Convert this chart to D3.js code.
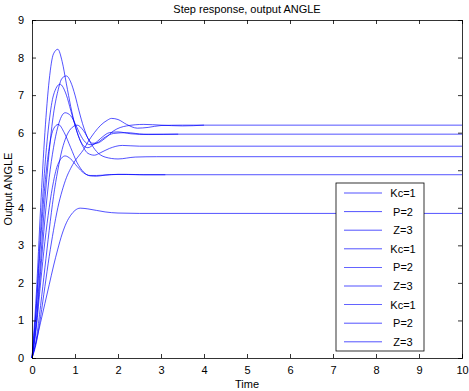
<!DOCTYPE html>
<html><head><meta charset="utf-8">
<script src="https://cdnjs.cloudflare.com/ajax/libs/d3/7.8.5/d3.min.js"></script>
<style>body{margin:0;background:#fff}svg{display:block}text{font-family:"Liberation Sans",Arial,sans-serif}</style>
</head><body><svg id="c" width="469" height="391"></svg>
<script>
const xTicks = [0,1,2,3,4,5,6,7,8,9,10];
const yTicks = [0,1,2,3,4,5,6,7,8,9];
const legendLabels = ["Kc=1","P=2","Z=3","Kc=1","P=2","Z=3","Kc=1","P=2","Z=3"];

const t1 = [0,0.1,0.2,0.3,0.4,0.5,0.6,0.7,0.8,0.9,1.0,1.1,1.2,1.3,1.45,1.6,1.8,2.0,2.3,2.7,3.4];
const y1 = [0,1.7,4.0,6.0,7.4,8.1,8.22,7.9,7.3,6.7,6.2,5.85,5.65,5.6,5.7,5.85,6.0,6.02,5.97,5.95,5.96];
const t2 = [0,0.1,0.2,0.3,0.4,0.5,0.6,0.7,0.8,0.9,1.0,1.1,1.2,1.3,1.4,1.5,1.7,1.9,2.2,2.6,3.0,3.5,4.0];
const y2 = [0,1.0,2.6,4.2,5.5,6.5,7.1,7.45,7.51,7.35,7.0,6.55,6.15,5.85,5.72,5.72,5.85,6.05,6.18,6.22,6.2,6.18,6.2];
const t3 = [0,0.1,0.2,0.3,0.4,0.5,0.65,0.8,0.9,1.0,1.1,1.2,1.3,1.45,1.6,1.8,2.1,2.5,3,10];
const y3 = [0,1.4,3.4,5.1,6.3,7.0,7.29,7.0,6.6,6.2,5.85,5.6,5.45,5.4,5.47,5.58,5.66,5.64,5.64,5.64];
const t4 = [0,0.1,0.2,0.3,0.4,0.5,0.6,0.77,0.9,1.0,1.1,1.2,1.35,1.5,1.7,1.9,2.2,2.6,10];
const y4 = [0,0.9,2.3,3.7,4.8,5.6,6.15,6.53,6.45,6.25,6.0,5.8,5.68,5.72,5.88,5.98,6.0,5.96,5.96];
const t5 = [0,0.1,0.2,0.3,0.4,0.5,0.61,0.75,0.9,1.05,1.2,1.35,1.5,1.7,2.0,2.5,10];
const y5 = [0,1.3,3.1,4.6,5.6,6.1,6.22,6.0,5.6,5.2,4.95,4.85,4.84,4.87,4.89,4.88,4.88];
const t6 = [0,0.1,0.2,0.3,0.4,0.5,0.6,0.7,0.8,0.9,1.05,1.2,1.35,1.5,1.7,2.0,2.4,2.9,10];
const y6 = [0,0.5,1.4,2.4,3.4,4.3,5.0,5.55,5.9,6.1,6.2,6.05,5.75,5.5,5.35,5.3,5.35,5.36,5.36];
const t7 = [0,0.1,0.2,0.3,0.4,0.5,0.6,0.77,0.9,1.05,1.2,1.35,1.5,1.8,2.2,2.6,3.1];
const y7 = [0,0.8,2.0,3.1,4.0,4.7,5.15,5.38,5.3,5.1,4.93,4.86,4.86,4.88,4.89,4.88,4.88];
const t8 = [0,0.1,0.2,0.3,0.4,0.5,0.6,0.7,0.8,0.9,1.0,1.1,1.2,1.3,1.45,1.6,1.75,1.85,2.0,2.2,2.45,2.7,3.0,3.5,4,10];
const y8 = [0,0.4,1.1,1.9,2.7,3.4,4.0,4.45,4.8,5.05,5.25,5.4,5.55,5.75,6.0,6.2,6.33,6.38,6.35,6.22,6.12,6.14,6.19,6.2,6.2,6.2];
const t9 = [0,0.1,0.2,0.3,0.4,0.5,0.6,0.7,0.8,0.9,1.0,1.12,1.3,1.5,1.7,2.0,2.5,10];
const y9 = [0,0.45,0.95,1.45,1.95,2.45,2.9,3.3,3.6,3.8,3.93,3.99,3.97,3.93,3.89,3.86,3.85,3.85];

const seriesT = [t1,t2,t3,t4,t5,t6,t7,t8,t9];
const seriesY = [y1,y2,y3,y4,y5,y6,y7,y8,y9];

const L = 32, R = 462, T = 20, B = 358;
const svg = d3.select("#c");
const x = d3.scaleLinear().domain([0,10]).range([L,R]);
const y = d3.scaleLinear().domain([0,9]).range([B,T]);

svg.append("rect").attr("x",L).attr("y",T).attr("width",R-L).attr("height",B-T).attr("fill","#fff");

const line = d3.line().x(d=>x(d[0])).y(d=>y(d[1])).curve(d3.curveMonotoneX);
const g = svg.append("g");
seriesT.forEach((ts,i)=>{
  const pts = ts.map((t,j)=>[t, seriesY[i][j]]);
  g.append("path").attr("d",line(pts)).attr("fill","none").attr("stroke","#0000ff").attr("stroke-width",0.8).attr("opacity",0.85);
});

// axes (MATLAB style, inward ticks on all sides)
const fs = 11;
const axB = svg.append("g").attr("transform",`translate(0,${B})`).call(d3.axisBottom(x).tickValues(xTicks).tickSize(-4).tickPadding(8).tickFormat(d3.format("d")));
const axT = svg.append("g").attr("transform",`translate(0,${T})`).call(d3.axisTop(x).tickValues(xTicks).tickSize(-4).tickFormat(""));
const axL = svg.append("g").attr("transform",`translate(${L},0)`).call(d3.axisLeft(y).tickValues(yTicks).tickSize(-4).tickPadding(8).tickFormat(d3.format("d")));
const axR = svg.append("g").attr("transform",`translate(${R},0)`).call(d3.axisRight(y).tickValues(yTicks).tickSize(-4).tickFormat(""));
[axB,axT,axL,axR].forEach(a=>{
  a.select(".domain").attr("stroke","#000").attr("stroke-width",0.8);
  a.selectAll(".tick line").attr("stroke","#000").attr("stroke-width",0.8);
  a.selectAll("text").attr("font-size",fs).attr("fill","#000").style("font-family","Liberation Sans, Arial, sans-serif");
});

svg.append("text").attr("x",247).attr("y",13).attr("text-anchor","middle").attr("font-size",11).text("Step response, output ANGLE");
svg.append("text").attr("x",247).attr("y",388).attr("text-anchor","middle").attr("font-size",11).text("Time");
svg.append("text").attr("transform",`translate(12,${(T+B)/2}) rotate(-90)`).attr("text-anchor","middle").attr("font-size",11).text("Output ANGLE");

// legend
const lgX = 336, lgY = 183, lgW = 88, lgH = 168, step = 18.6;
const lg = svg.append("g");
lg.append("rect").attr("x",lgX).attr("y",lgY).attr("width",lgW).attr("height",lgH).attr("fill","#fff").attr("stroke","#000").attr("stroke-width",0.8);
legendLabels.forEach((lab,i)=>{
  const yy = lgY + 10 + i*step;
  lg.append("line").attr("x1",lgX+8).attr("x2",lgX+46).attr("y1",yy).attr("y2",yy).attr("stroke","#0000ff").attr("stroke-width",0.8).attr("opacity",0.85);
  lg.append("text").attr("x",lgX+67).attr("y",yy+4).attr("text-anchor","middle").attr("font-size",11).text(lab);
});
</script></body></html>
